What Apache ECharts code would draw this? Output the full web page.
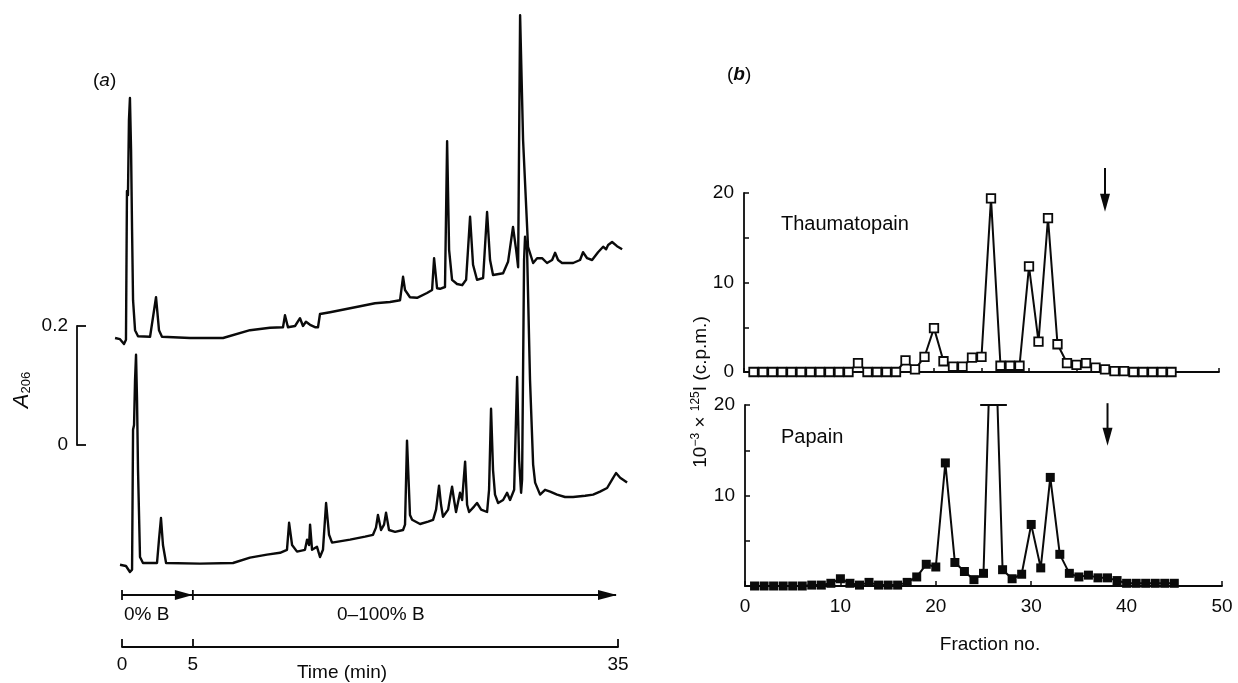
<!DOCTYPE html>
<html>
<head>
<meta charset="utf-8">
<script src="https://cdn.jsdelivr.net/npm/echarts@6.0.0/dist/echarts.min.js"></script>
<style>
  html, body { margin: 0; padding: 0; background: #fff; }
  #chart { width: 1238px; height: 683px; }
</style>
</head>
<body>
<div id="chart"></div>
<script>
// (a) HPLC traces: time (min) and A206 above each trace's own baseline
var TOP_TIME = [-0.49, -0.14, 0.14, 0.28, 0.35, 0.42, 0.49, 0.56, 0.64, 0.71, 0.78, 0.92, 1.13, 1.98, 2.12, 2.40, 2.61, 2.82, 4.80, 7.13,
  9.03, 10.44, 11.36, 11.50, 11.71, 12.21, 12.56, 12.77, 12.98, 13.27, 13.62, 13.83, 13.97, 14.68, 15.74, 16.80, 17.85, 18.91, 19.62, 19.83,
  19.97, 20.32, 20.82, 21.52, 21.88, 22.02, 22.23, 22.44, 22.79, 22.94, 23.08, 23.29, 23.64, 24.00, 24.28, 24.56, 24.77, 25.05, 25.48, 25.76,
  25.97, 26.18, 26.89, 27.24, 27.59, 27.81, 27.95, 28.09, 28.30, 28.65, 29.01, 29.29, 29.64, 29.99, 30.35, 30.56, 30.77, 31.05, 31.83, 32.32,
  32.53, 32.82, 33.17, 33.59, 33.95, 34.16, 34.30, 34.58, 34.93, 35.29];
var TOP_ABS = [0, -0.002, -0.010, -0.003, 0.245, 0.238, 0.363, 0.400, 0.313, 0.180, 0.063, 0.013, 0.003, 0.002, 0.002, 0.068, 0.013, 0.002, 0, 0,
  0.013, 0.017, 0.018, 0.038, 0.018, 0.020, 0.033, 0.020, 0.027, 0.022, 0.018, 0.018, 0.040, 0.043, 0.048, 0.053, 0.058, 0.060, 0.063, 0.102,
  0.080, 0.068, 0.067, 0.075, 0.080, 0.133, 0.083, 0.082, 0.085, 0.328, 0.147, 0.097, 0.090, 0.088, 0.097, 0.202, 0.122, 0.097, 0.100, 0.210,
  0.130, 0.105, 0.108, 0.127, 0.185, 0.147, 0.118, 0.538, 0.330, 0.152, 0.125, 0.133, 0.133, 0.125, 0.130, 0.142, 0.130, 0.125, 0.125, 0.130,
  0.143, 0.133, 0.130, 0.143, 0.152, 0.148, 0.155, 0.160, 0.153, 0.148];

var BOTTOM_TIME = [-0.14, 0.28, 0.56, 0.71, 0.78, 0.85, 0.92, 0.99, 1.06, 1.13, 1.27, 1.48, 2.47, 2.61, 2.75, 2.89, 3.11, 5.50, 7.83, 9.03,
  10.23, 11.15, 11.64, 11.79, 12.00, 12.35, 12.91, 13.06, 13.20, 13.27, 13.41, 13.55, 13.76, 13.97, 14.18, 14.40, 14.61, 14.82, 16.09, 17.15,
  17.71, 17.92, 18.06, 18.28, 18.49, 18.63, 18.84, 19.27, 19.83, 19.97, 20.11, 20.32, 20.47, 21.03, 21.60, 21.95, 22.16, 22.37, 22.51, 22.65,
  23.01, 23.15, 23.29, 23.43, 23.57, 23.85, 24.00, 24.21, 24.35, 24.49, 24.84, 25.05, 25.34, 25.76, 25.90, 26.04, 26.18, 26.32, 26.54, 26.89,
  27.17, 27.38, 27.67, 27.88, 28.02, 28.16, 28.23, 28.37, 28.44, 28.58, 28.79, 29.01, 29.15, 29.29, 29.50, 29.85, 30.21, 30.70, 31.26, 31.83,
  32.68, 33.24, 33.73, 34.23, 34.58, 34.86, 35.15, 35.64];
var BOTTOM_ABS = [0, -0.002, -0.012, -0.008, 0.225, 0.233, 0.308, 0.350, 0.275, 0.158, 0.013, 0.003, 0.003, 0.042, 0.078, 0.033, 0.003, 0.002, 0.003, 0.012,
  0.017, 0.020, 0.025, 0.070, 0.033, 0.022, 0.025, 0.042, 0.033, 0.067, 0.025, 0.022, 0.030, 0.013, 0.025, 0.103, 0.050, 0.037, 0.042, 0.047,
  0.050, 0.062, 0.083, 0.058, 0.067, 0.087, 0.058, 0.055, 0.058, 0.067, 0.207, 0.083, 0.075, 0.068, 0.072, 0.075, 0.092, 0.132, 0.100, 0.080,
  0.092, 0.112, 0.130, 0.108, 0.088, 0.120, 0.108, 0.172, 0.100, 0.088, 0.097, 0.103, 0.092, 0.088, 0.125, 0.260, 0.158, 0.117, 0.103, 0.108,
  0.120, 0.108, 0.125, 0.313, 0.175, 0.120, 0.142, 0.508, 0.547, 0.525, 0.308, 0.167, 0.137, 0.137, 0.117, 0.125, 0.122, 0.117, 0.113, 0.113,
  0.115, 0.117, 0.122, 0.128, 0.142, 0.153, 0.145, 0.137];

var TIME_TICKS = [0, 5, 35];
var GRADIENT_STEPS = [0, 5, 35];
var GRADIENT_LABELS = ['0% B', '0\u2013100% B'];

// (b) radioactivity per fraction (10^-3 x c.p.m.)
var FRACTIONS = [1, 2, 3, 4, 5, 6, 7, 8, 9, 10, 11, 12, 13, 14, 15, 16, 17, 18, 19, 20, 21, 22, 23, 24, 25,
  26, 27, 28, 29, 30, 31, 32, 33, 34, 35, 36, 37, 38, 39, 40, 41, 42, 43, 44, 45];
var THAUMATOPAIN = [0, 0, 0, 0, 0, 0, 0, 0, 0, 0, 0, 1.0, 0, 0, 0, 0, 1.3, 0.3, 1.7, 4.9, 1.2, 0.6, 0.6, 1.6, 1.7,
  19.4, 0.7, 0.7, 0.7, 11.8, 3.4, 17.2, 3.1, 1.0, 0.8, 1.0, 0.5, 0.3, 0.1, 0.1, 0, 0, 0, 0, 0];
var PAPAIN = [0, 0, 0, 0, 0, 0, 0.1, 0.1, 0.3, 0.8, 0.3, 0.1, 0.4, 0.1, 0.1, 0.1, 0.4, 1.0, 2.4, 2.1, 13.6, 2.6, 1.6, 0.7, 1.4,
  36, 1.8, 0.8, 1.3, 6.8, 2.0, 12.0, 3.5, 1.4, 1.0, 1.2, 0.9, 0.9, 0.6, 0.3, 0.3, 0.3, 0.3, 0.3, 0.3];
var ELUTION_ARROW = 38;   // fraction marked by the arrows
var OFFSCALE_FRACTION = 26;

(function () {
  var ink = '#0a0a0a';
  var font = 'Liberation Sans, Arial, Helvetica, sans-serif';
  var TOP_BASE = 0.47, BOTTOM_BASE = 0.092;   // vertical offset of each trace

  function pairs(xs, ys, off) {
    return xs.map(function (x, i) { return [x, ys[i] + (off || 0)]; });
  }

  var chart = echarts.init(document.getElementById('chart'), null, { renderer: 'canvas' });

  var hidden = { show: false };
  var axisLine = { show: true, lineStyle: { color: ink, width: 1.8 } };
  var label = { color: ink, fontSize: 19, fontFamily: font };

  chart.setOption({
    animation: false,
    backgroundColor: '#fff',
    grid: [
      { left: 113.5, top: 20, width: 518.7, height: 600 },   // traces
      { left: 77, top: 326, width: 20, height: 119 },        // A206 scale bar
      { left: 122, top: 600, width: 496, height: 47 },       // time axis
      { left: 744, top: 193, width: 475, height: 179 },      // thaumatopain
      { left: 745, top: 405, width: 477, height: 181 }       // papain
    ],
    xAxis: [
      { gridIndex: 0, type: 'value', min: -0.6, max: 36, show: false },
      { gridIndex: 1, type: 'value', min: 0, max: 1, show: false },
      { gridIndex: 2, type: 'value', min: 0, max: 35, position: 'bottom',
        axisLine: axisLine, splitLine: hidden,
        axisTick: { inside: true, length: 8, customValues: TIME_TICKS, lineStyle: { color: ink, width: 1.8 } },
        axisLabel: Object.assign({ margin: 8, customValues: TIME_TICKS }, label) },
      { gridIndex: 3, type: 'value', min: 0, max: 50, interval: 5,
        axisLine: axisLine, splitLine: hidden, axisLabel: hidden,
        axisTick: { inside: true, length: 4, lineStyle: { color: ink, width: 1.5 } } },
      { gridIndex: 4, type: 'value', min: 0, max: 50, interval: 10,
        axisLine: axisLine, splitLine: hidden,
        axisTick: { inside: true, length: 5, lineStyle: { color: ink, width: 1.5 } },
        axisLabel: Object.assign({ margin: 11 }, label) }
    ],
    yAxis: [
      { gridIndex: 0, type: 'value', min: 0, max: 1, show: false },
      { gridIndex: 1, type: 'value', min: 0, max: 0.2, interval: 0.2,
        axisLine: axisLine, splitLine: hidden,
        axisTick: { inside: true, length: 9, lineStyle: { color: ink, width: 1.8 } },
        axisLabel: Object.assign({ margin: 9, formatter: function (v) { return v === 0 ? '0' : '0.2'; } }, label) },
      { gridIndex: 2, type: 'value', min: 0, max: 1, show: false },
      { gridIndex: 3, type: 'value', min: 0, max: 20, interval: 5,
        axisLine: axisLine, splitLine: hidden,
        axisTick: { inside: true, length: 5, lineStyle: { color: ink, width: 1.5 } },
        axisLabel: Object.assign({ margin: 10, formatter: function (v) { return v % 10 === 0 ? String(v) : ''; } }, label) },
      { gridIndex: 4, type: 'value', min: 0, max: 20, interval: 5,
        axisLine: axisLine, splitLine: hidden,
        axisTick: { inside: true, length: 5, lineStyle: { color: ink, width: 1.5 } },
        axisLabel: Object.assign({ margin: 10, formatter: function (v) { return (v === 10 || v === 20) ? String(v) : ''; } }, label) }
    ],
    series: [
      { type: 'line', xAxisIndex: 0, yAxisIndex: 0, data: pairs(TOP_TIME, TOP_ABS, TOP_BASE),
        showSymbol: false, clip: false, lineStyle: { color: ink, width: 2.4, join: 'round' } },
      { type: 'line', xAxisIndex: 0, yAxisIndex: 0, data: pairs(BOTTOM_TIME, BOTTOM_ABS, BOTTOM_BASE),
        showSymbol: false, clip: false, lineStyle: { color: ink, width: 2.4, join: 'round' } },
      { type: 'line', name: 'Thaumatopain', xAxisIndex: 3, yAxisIndex: 3, data: pairs(FRACTIONS, THAUMATOPAIN),
        symbol: 'rect', symbolSize: 8.5, showAllSymbol: true, clip: true,
        lineStyle: { color: ink, width: 2 },
        itemStyle: { color: '#fff', borderColor: ink, borderWidth: 1.8 } },
      { type: 'line', name: 'Papain', xAxisIndex: 4, yAxisIndex: 4, data: pairs(FRACTIONS, PAPAIN),
        symbol: 'rect', symbolSize: 9, showAllSymbol: true, clip: true,
        lineStyle: { color: ink, width: 2 },
        itemStyle: { color: ink } }
    ]
  });

  // annotations placed through the axes
  function px(grid, pt) { return chart.convertToPixel({ gridIndex: grid }, pt); }
  var g = [];
  function seg(x1, y1, x2, y2, w) {
    g.push({ type: 'line', shape: { x1: x1, y1: y1, x2: x2, y2: y2 }, style: { stroke: ink, lineWidth: w || 1.8 }, silent: true });
  }
  function head(tipX, tipY, dx, dy, len, half) {
    // dx,dy: unit direction of the arrow
    var bx = tipX - dx * len, by = tipY - dy * len;
    g.push({ type: 'polygon', shape: { points: [[tipX, tipY], [bx - dy * half, by + dx * half], [bx + dy * half, by - dx * half]] },
      style: { fill: ink }, silent: true });
  }
  function text(x, y, t, opt) {
    var s = Object.assign({ text: t, fill: ink, font: '19px ' + font, align: 'left', verticalAlign: 'middle' }, opt || {});
    g.push({ type: 'text', x: x, y: y, style: s, silent: true });
  }

  // gradient arrows above the time axis
  var gy = 595;
  var gx = GRADIENT_STEPS.map(function (t) { return px(2, [t, 0])[0]; });
  seg(gx[0], gy, gx[2] - 2, gy, 1.8);
  seg(gx[0], gy - 5, gx[0], gy + 5, 1.8);
  seg(gx[1], gy - 5, gx[1], gy + 5, 1.8);
  head(gx[1], gy, 1, 0, 18, 5);
  head(gx[2] - 1, gy, 1, 0, 19, 5);
  text(gx[0] + 2, 615, GRADIENT_LABELS[0]);
  text(337, 615, GRADIENT_LABELS[1]);
  text(342, 673, 'Time (min)', { align: 'center' });

  // elution arrows in (b)
  [[3, 22.8, 17.9], [4, 20.2, 15.5]].forEach(function (a) {
    var p1 = px(a[0], [ELUTION_ARROW, a[1]]), p2 = px(a[0], [ELUTION_ARROW, a[2]]);
    seg(p1[0], p1[1], p2[0], p2[1] - 12, 2);
    head(p2[0], p2[1], 0, 1, 18, 5);
  });

  // off-scale cap on the papain peak
  var c1 = px(4, [OFFSCALE_FRACTION - 1.35, 20]), c2 = px(4, [OFFSCALE_FRACTION + 1.45, 20]);
  seg(c1[0], c1[1], c2[0], c2[1], 2);

  // panel labels
  text(93, 81, '{p|(}{i|a}{p|)}', { rich: { p: { fontSize: 19, fontFamily: font }, i: { fontSize: 19, fontFamily: font, fontStyle: 'italic' } } });
  text(727, 75, '{p|(}{i|b}{p|)}', { rich: { p: { fontSize: 19, fontFamily: font }, i: { fontSize: 19, fontFamily: font, fontStyle: 'italic', fontWeight: 'bold' } } });
  text(781, 224, 'Thaumatopain', { font: '20px ' + font });
  text(781, 437, 'Papain', { font: '20px ' + font });
  text(990, 645, 'Fraction no.', { align: 'center' });

  g.push({ type: 'text', x: 22, y: 390, rotation: Math.PI / 2, silent: true,
    style: { text: '{i|A}{s|206}', fill: ink, align: 'center', verticalAlign: 'middle',
      rich: { i: { fontSize: 22, fontFamily: font, fontStyle: 'italic' },
              s: { fontSize: 13, fontFamily: font, verticalAlign: 'bottom', padding: [8, 0, 0, 0] } } } });
  g.push({ type: 'text', x: 700, y: 392, rotation: Math.PI / 2, silent: true,
    style: { text: '{n|10}{s|\u22123}{n| \u00d7 }{s|125}{n|I (c.p.m.)}', fill: ink, align: 'center', verticalAlign: 'middle',
      rich: { n: { fontSize: 19, fontFamily: font, verticalAlign: 'bottom' },
              s: { fontSize: 12, fontFamily: font, verticalAlign: 'top', padding: [0, 0, 8, 0] } } } });

  chart.setOption({ graphic: { elements: g } });
  window.addEventListener('resize', function () { chart.resize(); });
})();
</script>
</body>
</html>
